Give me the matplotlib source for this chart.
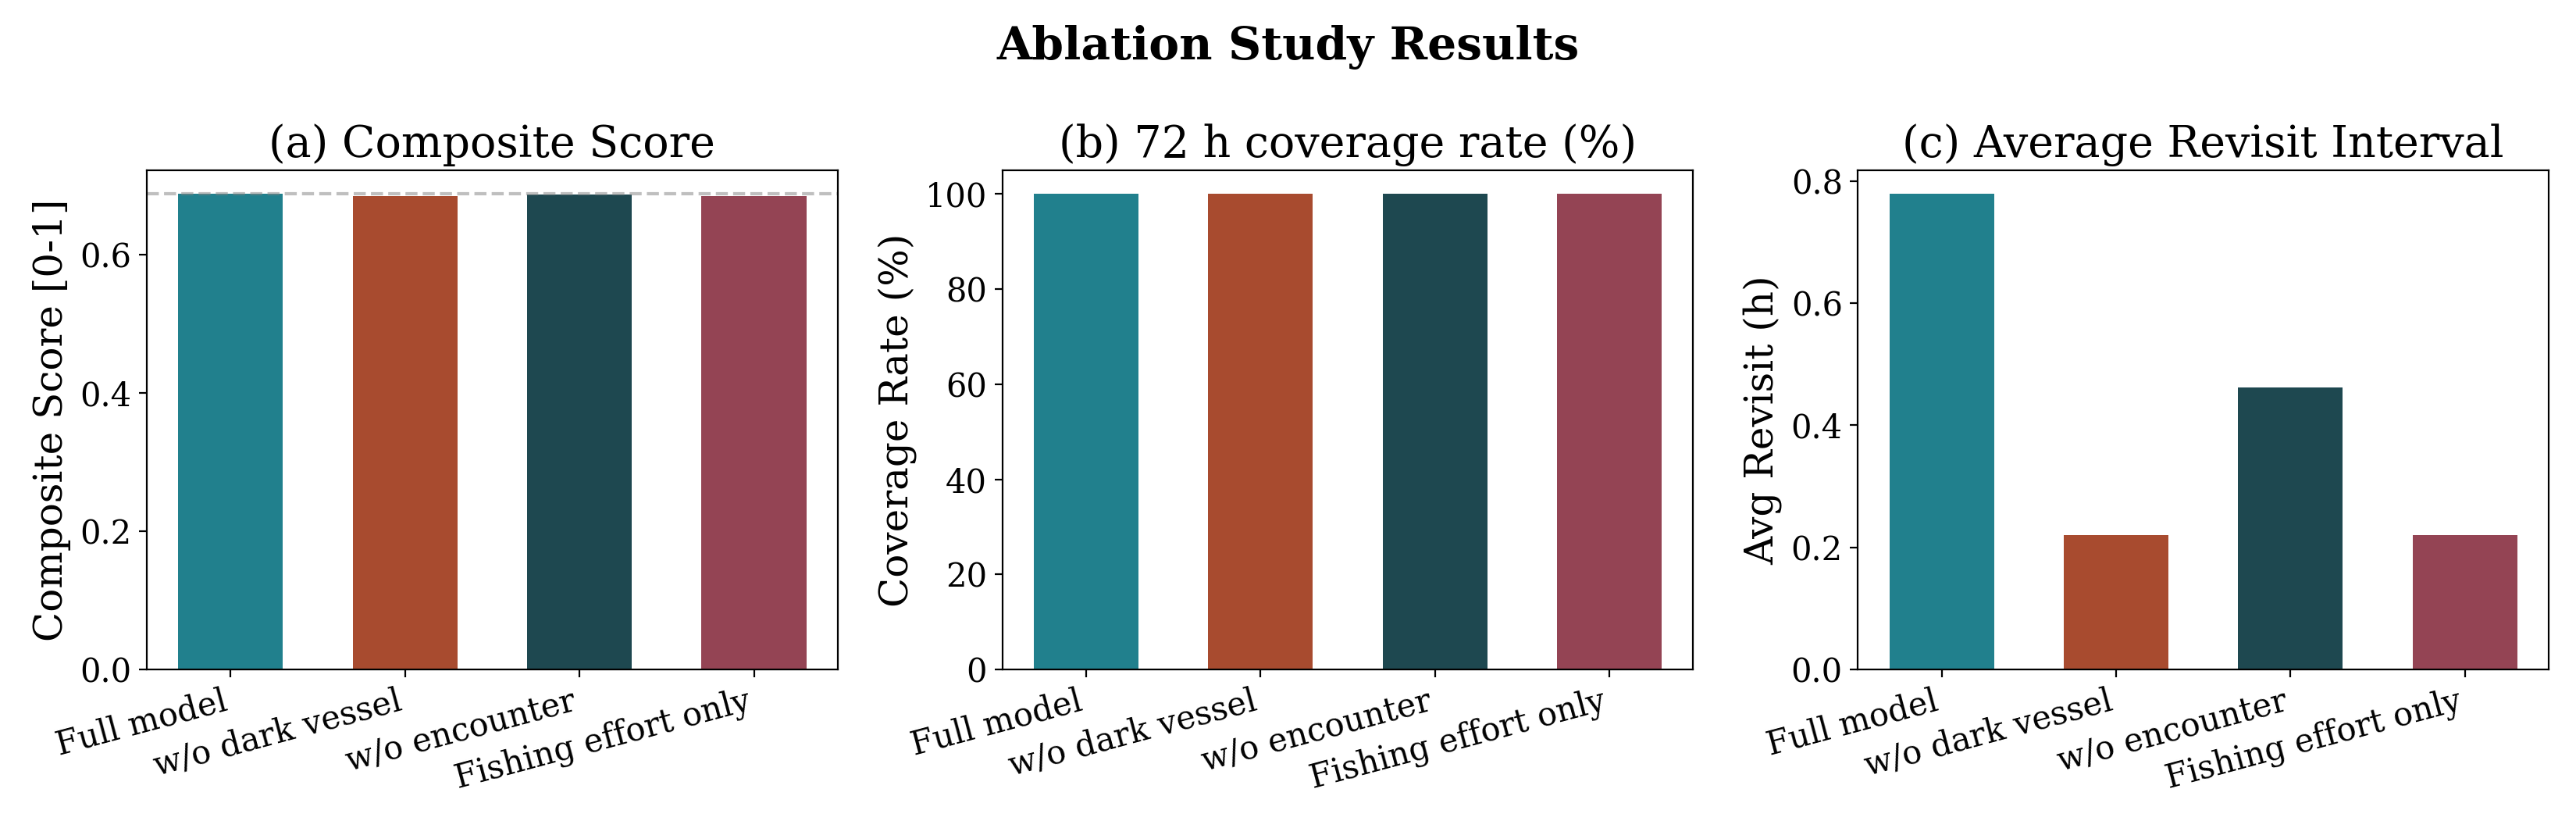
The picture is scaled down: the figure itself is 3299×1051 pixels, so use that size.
import matplotlib
matplotlib.use("Agg")
import matplotlib.pyplot as plt
import numpy as np

plt.rcParams['font.family'] = ['DejaVu Serif']

variants = ["Full model", "w/o dark vessel", "w/o encounter", "Fishing effort only"]
composite = [0.688, 0.685, 0.687, 0.685]
coverage = [100.0, 100.0, 100.0, 100.0]
revisit = [0.779, 0.220, 0.462, 0.220]
colors = ["#21808D", "#A84B2F", "#1E4850", "#944454"]

titles = ["(a) Composite Score", "(b) 72 h coverage rate (%)", "(c) Average Revisit Interval"]
ylabels = ["Composite Score [0-1]", "Coverage Rate (%)", "Avg Revisit (h)"]
series = [composite, coverage, revisit]

fig, axes = plt.subplots(1, 3, figsize=(3299 / 200, 1051 / 200), dpi=200)
fig.subplots_adjust(left=0.057, right=0.9894, top=0.7926, bottom=0.1846, wspace=0.2384)

x = np.arange(len(variants))
for i, ax in enumerate(axes):
    ax.bar(x, series[i], width=0.6, color=colors)
    ax.set_title(titles[i], fontsize=20)
    ax.set_ylabel(ylabels[i], fontsize=18)
    ax.set_xticks(x)
    ax.set_xticklabels(variants, rotation=15, ha='right', fontsize=15)
    ax.tick_params(axis='y', labelsize=15)
    if i == 0:
        ax.axhline(composite[0], color='gray', linestyle='--', linewidth=1.5, alpha=0.5)

fig.suptitle("Ablation Study Results", fontsize=21, fontweight='bold', y=0.97)
fig.savefig("out.png", dpi=200)
